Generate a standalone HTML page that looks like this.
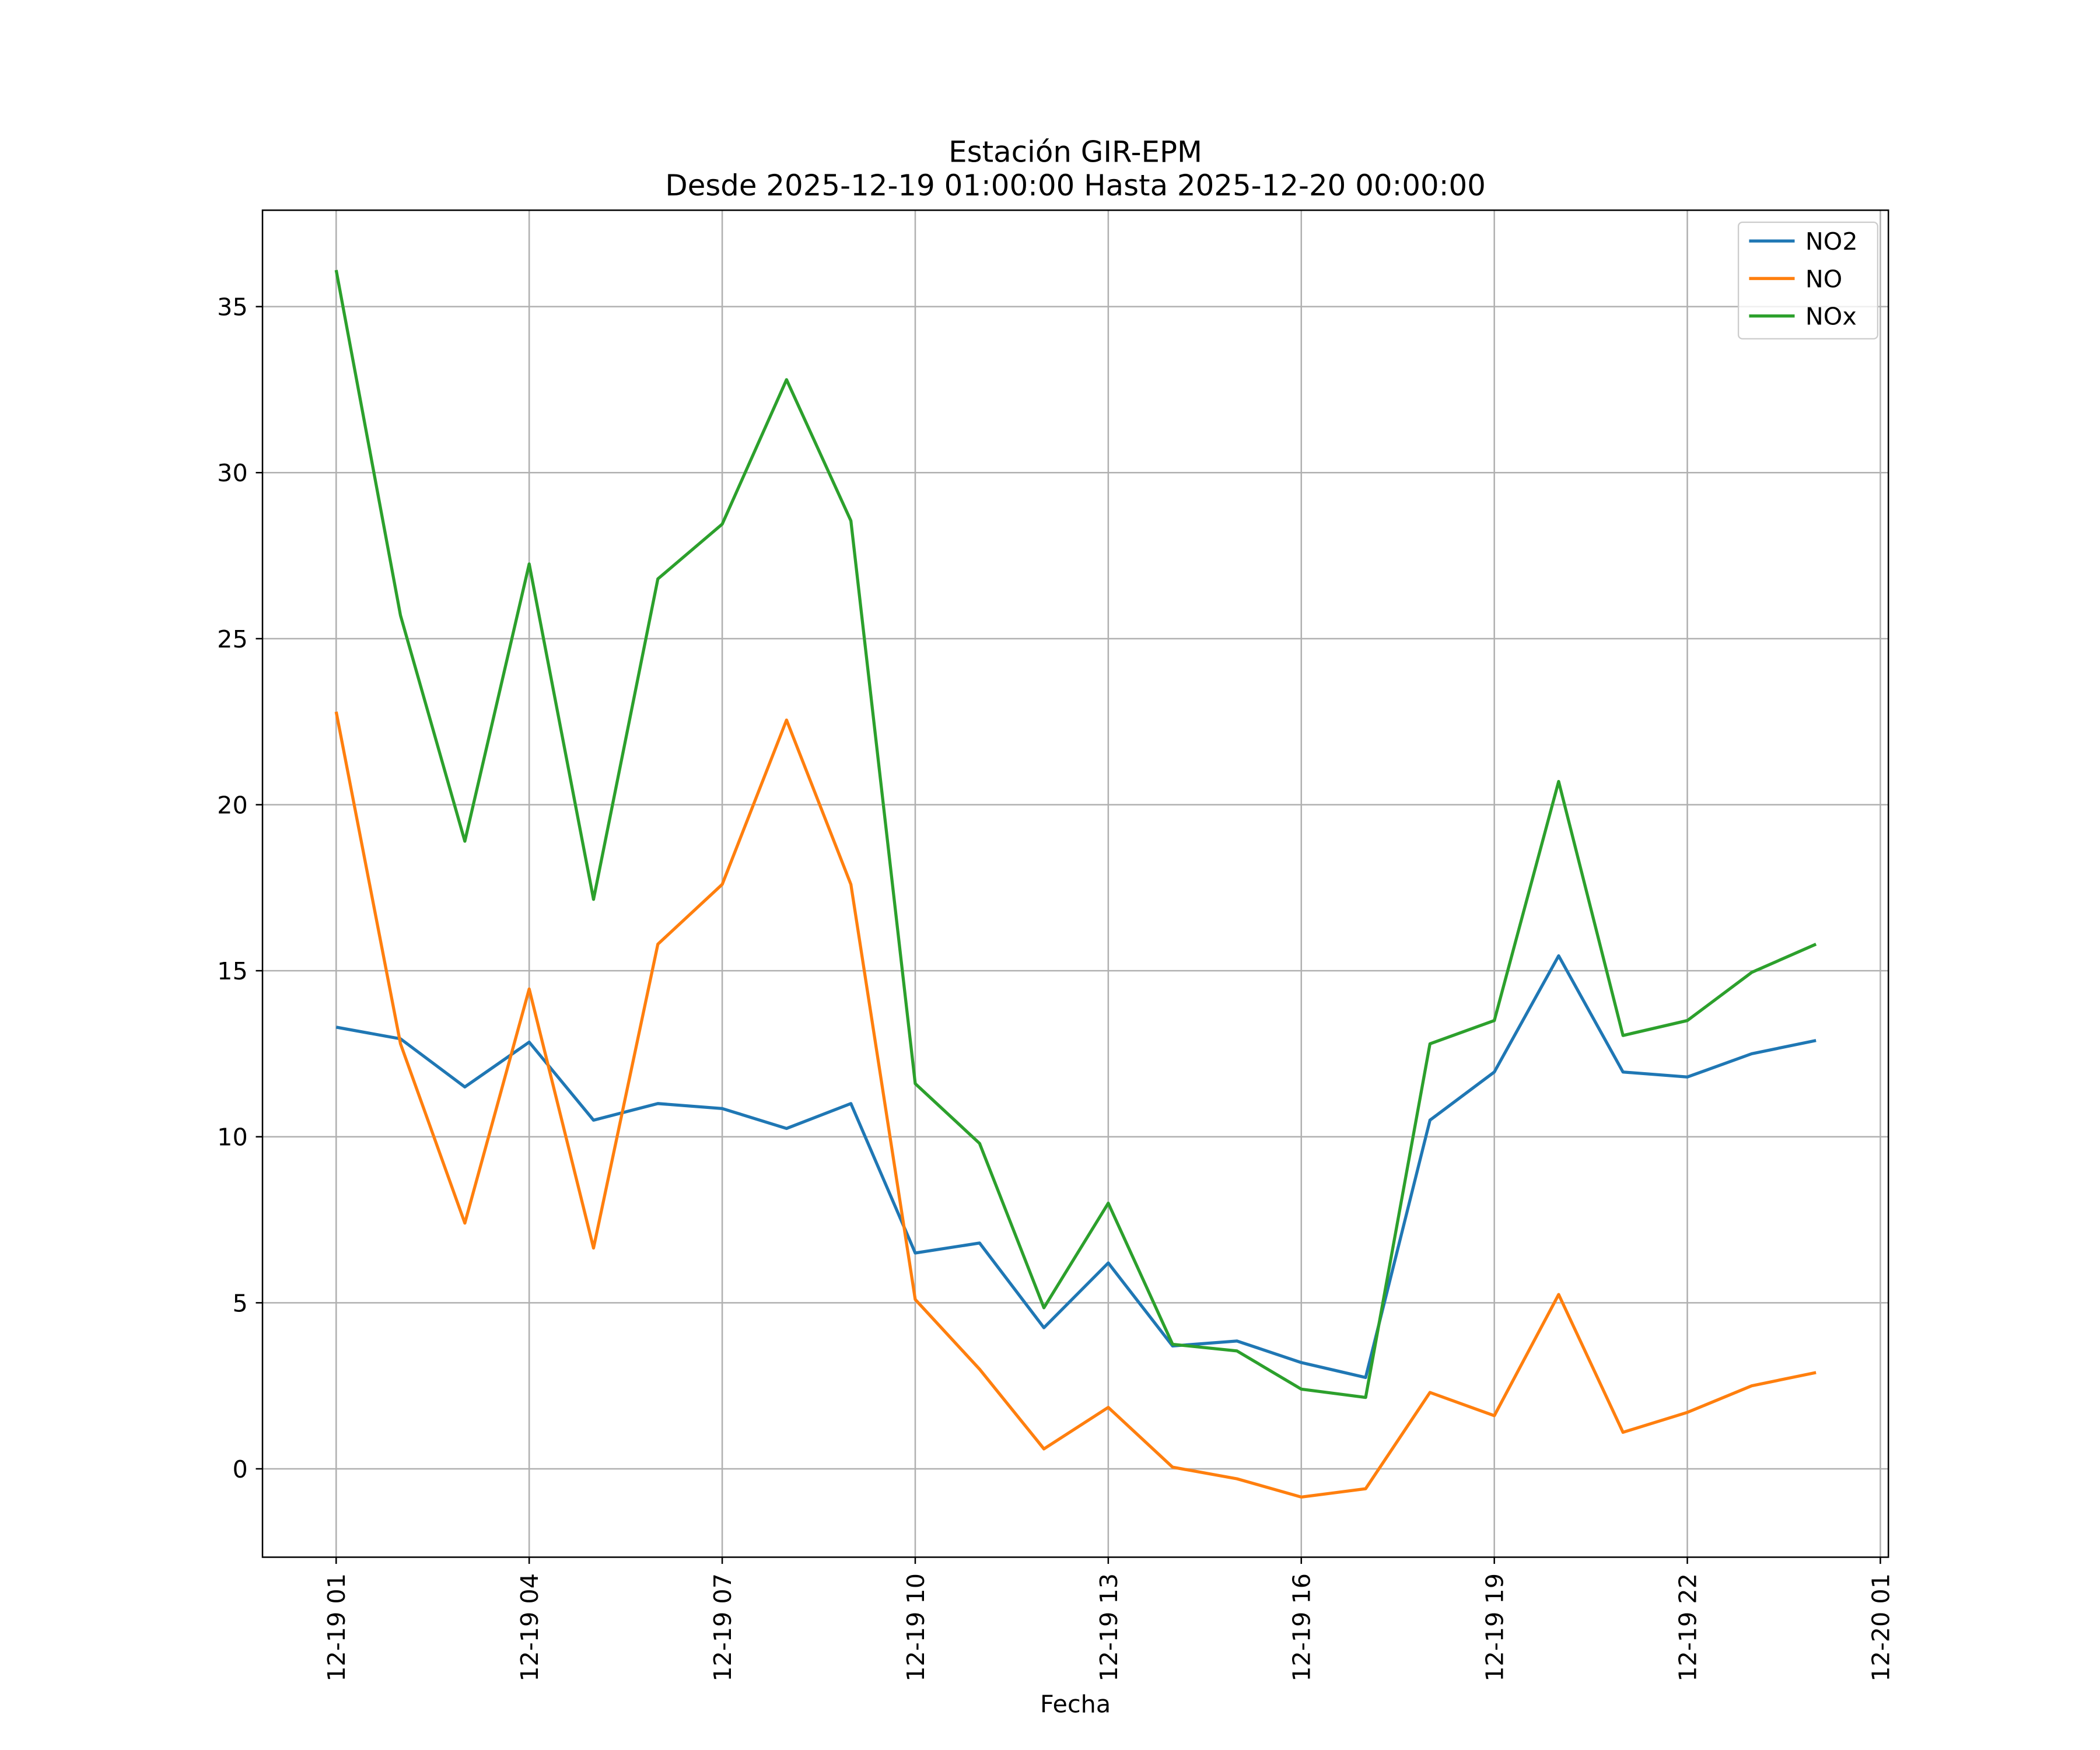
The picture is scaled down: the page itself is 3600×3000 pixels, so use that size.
<!DOCTYPE html>
<html><head><meta charset="utf-8"><style>
html,body{margin:0;padding:0;background:#fff;}
svg{display:block;font-family:"DejaVu Sans","Liberation Sans",sans-serif;}
</style></head><body>
<svg id="chart" width="3600" height="3000" viewBox="0 0 1568 1307" preserveAspectRatio="none" xmlns="http://www.w3.org/2000/svg">
<rect width="1568" height="1307" fill="#fff"/>
<text x="803" y="121" font-size="21.7" text-anchor="middle" fill="#000">Estación GIR-EPM</text>
<text x="803" y="146" font-size="21.7" text-anchor="middle" fill="#000">Desde 2025-12-19 01:00:00 Hasta 2025-12-20 00:00:00</text>
<g id="grid"></g>
<g id="series"></g>
<rect x="196" y="157" width="1214" height="1006" fill="none" stroke="#000" stroke-width="1.1"/>
<g id="ticks"></g>
<text x="803" y="1279" font-size="18" text-anchor="middle" fill="#000">Fecha</text>
<g>
<rect x="1298" y="166" width="104" height="87" rx="3" fill="#fff" fill-opacity="0.8" stroke="#ccc" stroke-width="1"/>
<line x1="1306" y1="180" x2="1340" y2="180" stroke="#1f77b4" stroke-width="2.3"/>
<text x="1348" y="186.5" font-size="18">NO2</text>
<line x1="1306" y1="208" x2="1340" y2="208" stroke="#ff7f0e" stroke-width="2.3"/>
<text x="1348" y="214.5" font-size="18">NO</text>
<line x1="1306" y1="236" x2="1340" y2="236" stroke="#2ca02c" stroke-width="2.3"/>
<text x="1348" y="242.5" font-size="18">NOx</text>
</g>
</svg>
<script>
const hours = [0,1,2,3,4,5,6,7,8,9,10,11,12,13,14,15,16,17,18,19,20,21,22,23];
const no2 = [13.3,12.95,11.5,12.85,10.5,11.0,10.85,10.25,11.0,6.5,6.8,4.25,6.2,3.7,3.85,3.2,2.75,10.5,11.95,15.45,11.95,11.8,12.5,12.9];
const no = [22.8,12.8,7.4,14.45,6.65,15.8,17.6,22.55,17.6,5.1,3.0,0.6,1.85,0.05,-0.3,-0.85,-0.6,2.3,1.6,5.25,1.1,1.7,2.5,2.9];
const nox = [36.1,25.7,18.9,27.25,17.15,26.8,28.45,32.8,28.55,11.6,9.8,4.85,8.0,3.75,3.55,2.4,2.15,12.8,13.5,20.7,13.05,13.5,14.95,15.8];
const yTicks = [0,5,10,15,20,25,30,35];
const xTickHours = [0,3,6,9,12,15,18,21,24];
const xTickLabels = ["12-19 01","12-19 04","12-19 07","12-19 10","12-19 13","12-19 16","12-19 19","12-19 22","12-20 01"];

const NS = "http://www.w3.org/2000/svg";
function xs(h){ return 251 + h * (1404 - 251) / 24; }
function ys(v){ return 1097 - v * (1097 - 229) / 35; }
function mk(tag, attrs, parent){ const e = document.createElementNS(NS, tag); for (const k in attrs) e.setAttribute(k, attrs[k]); parent.appendChild(e); return e; }
const grid = document.getElementById('grid'), ticks = document.getElementById('ticks'), series = document.getElementById('series');

yTicks.forEach(v => {
  const y = ys(v);
  const g = mk('line', {x1:196, x2:1410, y1:y, y2:y, stroke:'#b0b0b0', 'stroke-width':1.1}, grid);
  
  
  mk('line', {x1:191, x2:196, y1:y, y2:y, stroke:'#000', 'stroke-width':1.1}, ticks);
  const t = mk('text', {x:185, y:y+6.5, 'font-size':18, 'text-anchor':'end'}, ticks);
  t.textContent = v;
  
  
});
xTickHours.forEach((h, i) => {
  const x = xs(h);
  const g = mk('line', {x1:x, x2:x, y1:157, y2:1163, stroke:'#b0b0b0', 'stroke-width':1.1}, grid);
  
  
  mk('line', {x1:x, x2:x, y1:1163, y2:1168, stroke:'#000', 'stroke-width':1.1}, ticks);
  const t = mk('text', {x:0, y:0, 'font-size':18, 'text-anchor':'end', transform:`translate(${x+6.5},1175) rotate(-90)`}, ticks);
  t.textContent = xTickLabels[i];
  
  
});
function drawLine(vals, color, name){
  const pts = vals.map((v, i) => xs(hours[i]).toFixed(2) + ',' + ys(v).toFixed(2)).join(' ');
  const p = mk('polyline', {points:pts, fill:'none', stroke:color, 'stroke-width':2.3, 'stroke-linejoin':'round'}, series);
  
  
}
drawLine(no2, '#1f77b4', 'line-no2');
drawLine(no, '#ff7f0e', 'line-no');
drawLine(nox, '#2ca02c', 'line-nox');
</script>
</body></html>
